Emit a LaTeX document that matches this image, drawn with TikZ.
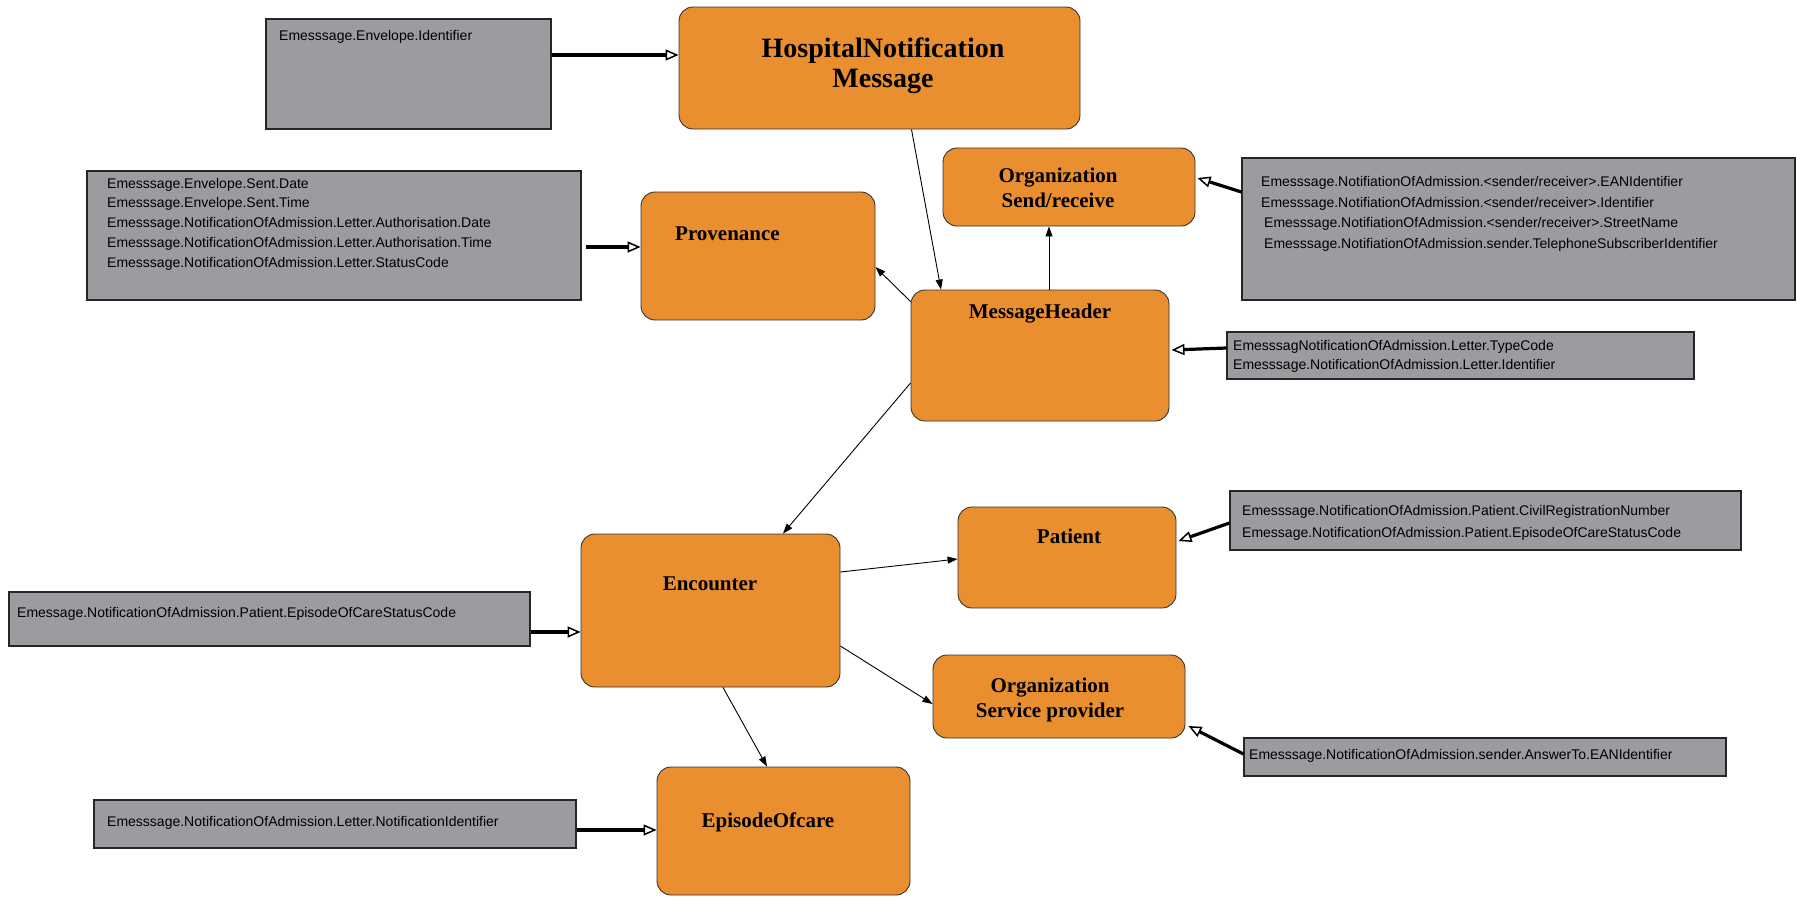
\documentclass[tikz,border=0pt]{standalone}
\usepackage{fontspec}
\setmainfont{Liberation Serif}
\setsansfont{Liberation Sans}
\usepackage{tikz}
\usetikzlibrary{arrows.meta}
\definecolor{nodeorange}{RGB}{233,143,48}
\definecolor{attrgray}{RGB}{155,156,160}

\begin{document}
\begin{tikzpicture}[x=1pt,y=-1pt,
    box/.style={draw=black!80,fill=nodeorange,rounded corners=14pt,inner sep=0pt,line width=0.9pt},
    attr/.style={draw=black!85,fill=attrgray,inner sep=0pt,line width=1.2pt},
    title/.style={font=\bfseries\fontsize{21}{25}\selectfont,inner sep=0pt,align=center},
    attrtext/.style={font=\sffamily\fontsize{14}{20}\selectfont,inner sep=0pt,align=left,anchor=north west},
    link/.style={-{Triangle[length=10pt,width=7pt]},line width=0.9pt},
    feed/.style={-{Triangle[open,length=13pt,width=11pt,line width=1.5pt]},line width=3.2pt}]
    \useasboundingbox (0,0) rectangle (1797,898);

    % orange boxes
    \node[box,minimum width=401pt,minimum height=122pt] (hosp) at (879.5,68) {};
    \node[box,minimum width=234pt,minimum height=128pt] (prov) at (758,256) {};
    \node[box,minimum width=252pt,minimum height=78pt] (orgsr) at (1069,187) {};
    \node[box,minimum width=258pt,minimum height=131pt] (msg) at (1040,355.5) {};
    \node[box,minimum width=259pt,minimum height=153pt] (enc) at (710.5,610.5) {};
    \node[box,minimum width=218pt,minimum height=101pt] (pat) at (1067,557.5) {};
    \node[box,minimum width=252pt,minimum height=83pt] (orgsp) at (1059,696.5) {};
    \node[box,minimum width=253pt,minimum height=128pt] (epi) at (783.5,831) {};

    \node[title,font=\bfseries\fontsize{28}{30}\selectfont,anchor=north] (hospT) at (883,37.5) {HospitalNotification\\Message};
    \node[title,anchor=base west] (provT) at (675,240) {Provenance};
    \node[title,anchor=north] (orgsrT) at (1058,167.5) {Organization\\Send/receive};
    \node[title,anchor=base] (msgT) at (1040,318) {MessageHeader};
    \node[title,anchor=base] (encT) at (710,590.5) {Encounter};
    \node[title,anchor=base] (patT) at (1069,543) {Patient};
    \node[title,font=\bfseries\fontsize{21}{24.5}\selectfont,anchor=north] (orgspT) at (1050,678) {Organization\\Service provider};
    \node[title,anchor=base] (epiT) at (768,827.5) {EpisodeOfcare};

    % gray attribute boxes
    \node[attr,minimum width=285pt,minimum height=110pt] (envId) at (408.5,74) {};
    \node[attr,minimum width=494pt,minimum height=129pt] (provAttr) at (334,235.5) {};
    \node[attr,minimum width=553pt,minimum height=142pt] (orgsrAttr) at (1518.5,229) {};
    \node[attr,minimum width=467pt,minimum height=47pt] (msgAttr) at (1460.5,355.5) {};
    \node[attr,minimum width=511pt,minimum height=59pt] (patAttr) at (1485.5,520.5) {};
    \node[attr,minimum width=521pt,minimum height=54pt] (encAttr) at (269.5,619) {};
    \node[attr,minimum width=482pt,minimum height=38pt] (orgspAttr) at (1485,757) {};
    \node[attr,minimum width=482pt,minimum height=48pt] (epiAttr) at (335,824) {};

    \node[attrtext] (envIdT) at (279,29.7) {Emesssage.Envelope.Identifier};
    \node[attrtext,font=\sffamily\fontsize{14}{19.8}\selectfont] (provAttrT) at (107,177.7) {Emesssage.Envelope.Sent.Date\\
        Emesssage.Envelope.Sent.Time\\
        Emesssage.NotificationOfAdmission.Letter.Authorisation.Date\\
        Emesssage.NotificationOfAdmission.Letter.Authorisation.Time\\
        Emesssage.NotificationOfAdmission.Letter.StatusCode};
    \node[attrtext,font=\sffamily\fontsize{14}{20.5}\selectfont] (orgsrAttrT) at (1261,176.2) {Emesssage.NotifiationOfAdmission.<sender/receiver>.EANIdentifier\\
        Emesssage.NotifiationOfAdmission.<sender/receiver>.Identifier\\
        \hspace*{3pt}Emesssage.NotifiationOfAdmission.<sender/receiver>.StreetName\\
        \hspace*{3pt}Emesssage.NotifiationOfAdmission.sender.TelephoneSubscriberIdentifier};
    \node[attrtext,font=\sffamily\fontsize{14}{19.3}\selectfont] (msgAttrT) at (1233,339.7) {EmesssagNotificationOfAdmission.Letter.TypeCode\\
        Emesssage.NotificationOfAdmission.Letter.Identifier};
    \node[attrtext,font=\sffamily\fontsize{14}{22}\selectfont] (patAttrT) at (1242,504.7) {Emesssage.NotificationOfAdmission.Patient.CivilRegistrationNumber\\
        Emessage.NotificationOfAdmission.Patient.EpisodeOfCareStatusCode};
    \node[attrtext] (encAttrT) at (17,606.7) {Emessage.NotificationOfAdmission.Patient.EpisodeOfCareStatusCode};
    \node[attrtext] (orgspAttrT) at (1249,748.7) {Emesssage.NotificationOfAdmission.sender.AnswerTo.EANIdentifier};
    \node[attrtext] (epiAttrT) at (107,815.7) {Emesssage.NotificationOfAdmission.Letter.NotificationIdentifier};

    % links between resources
    \draw[link] ([xshift=32pt]hosp.south) -- ([xshift=-99pt]msg.north);
    \draw[link] ([xshift=9pt]msg.north) -- ([xshift=9pt]msg.north |- orgsr.south);
    \draw[link] ([yshift=-12pt]msg.north west) -- ([yshift=-11pt]prov.east);
    \draw[link] ([yshift=-27.5pt]msg.west) -- ([xshift=72.5pt]enc.north);
    \draw[link] ([yshift=38.5pt]enc.east) -- ([yshift=-1.5pt]pat.west);
    \draw[link] ([yshift=-35.5pt]enc.east) -- ([yshift=-7.5pt]orgsp.west);
    \draw[link] ([xshift=12.5pt]enc.south) -- ([xshift=-16.5pt]epi.north);

    % attribute mappings
    \draw[feed] ([yshift=19pt]envId.east) -- ([yshift=19pt]envId.east -| hosp.west);
    \draw[feed] ([xshift=4pt,yshift=-11.5pt]provAttr.east) -- ([yshift=-11.5pt]provAttr.east -| prov.west);
    \draw[feed] ([yshift=37pt]orgsrAttr.west) -- ([xshift=2pt,yshift=9pt]orgsr.east);
    \draw[feed] ([yshift=7.5pt]msgAttr.west) -- ([xshift=2pt,yshift=5.5pt]msg.east);
    \draw[feed] ([yshift=-2.5pt]patAttr.west) -- ([xshift=2pt,yshift=16.5pt]pat.east);
    \draw[feed] ([yshift=-13pt]encAttr.east) -- ([yshift=-13pt]encAttr.east -| enc.west);
    \draw[feed] ([yshift=3pt]orgspAttr.west) -- ([xshift=3pt,yshift=-29.5pt]orgsp.east);
    \draw[feed] ([yshift=-6pt]epiAttr.east) -- ([yshift=-6pt]epiAttr.east -| epi.west);

\end{tikzpicture}
\end{document}
